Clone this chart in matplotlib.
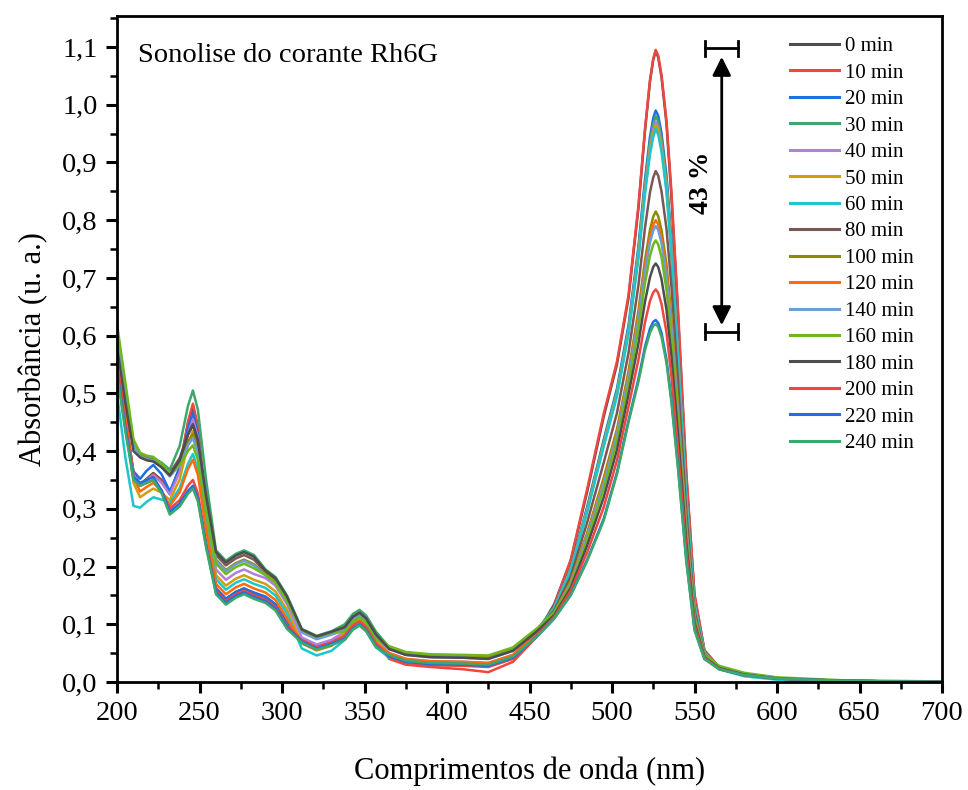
import matplotlib
matplotlib.use("Agg")
import matplotlib.pyplot as plt
from matplotlib.ticker import MultipleLocator, FuncFormatter

plt.rcParams['font.family'] = ['Liberation Serif', 'DejaVu Serif']

# wavelength grid (nm)
wl = [200, 205, 210, 214, 218, 222, 227, 232, 238, 243, 246, 249, 254, 260, 266, 272, 277, 283, 290, 296,
      303, 312, 321, 330, 338, 343, 347, 351, 357, 365, 375, 390, 410, 425,
      440, 455, 465, 475, 485, 495, 503, 510,
      516, 520, 523, 525, 526.5, 528, 530, 533, 536, 540, 545, 550, 556, 565,
      580, 600, 640, 700]

a_0 = [.57, .465, .362, .342, .352, .362, .35, .327, .372, .447, .478, .44, .301, .162, .144, .156, .162, .154, .147, .134,
       .102, .073, .061, .069, .085, .103, .11, .10, .072, .045, .035, .031, .03, .028,
       .042, .086, .135, .21, .33, .46, .55, .665,
       .82, .955, 1.04, 1.078, 1.093, 1.082, 1.048, .968, .842, .638, .358, .15, .055, .025,
       .012, .006, .002, 0.0]
a_10 = [.565, .46, .36, .34, .35, .36, .348, .325, .372, .451, .482, .444, .302, .16, .142, .154, .16, .152, .145, .132,
        .10, .072, .06, .068, .083, .101, .108, .098, .07, .04, .03, .026, .022, .017,
        .035, .08, .133, .212, .335, .465, .555, .67,
        .825, .958, 1.042, 1.08, 1.095, 1.085, 1.052, .973, .85, .645, .365, .152, .055, .025,
        .012, .006, .002, 0.0]
a_20 = [.545, .445, .365, .352, .366, .376, .36, .33, .371, .439, .466, .43, .296, .162, .144, .156, .162, .155, .148, .135,
        .103, .07, .058, .066, .083, .101, .108, .098, .07, .045, .035, .031, .03, .028,
        .042, .085, .13, .197, .304, .42, .508, .618,
        .754, .871, .944, .977, .99, .981, .951, .878, .766, .581, .327, .137, .052, .024,
        .012, .006, .002, 0.0]
a_30 = [.59, .495, .41, .395, .39, .388, .38, .368, .409, .478, .505, .472, .35, .228, .21, .222, .228, .22, .195, .182,
        .15, .092, .08, .088, .10, .118, .125, .115, .087, .06, .05, .046, .045, .043,
        .057, .092, .129, .196, .301, .417, .504, .613,
        .748, .864, .936, .967, .98, .971, .942, .87, .759, .575, .324, .136, .051, .024,
        .012, .006, .002, 0.0]
a_40 = [.55, .45, .36, .34, .35, .358, .345, .325, .364, .429, .455, .424, .309, .195, .177, .189, .195, .187, .18, .167,
        .135, .077, .065, .073, .087, .105, .112, .102, .074, .05, .04, .036, .035, .033,
        .047, .087, .128, .194, .298, .413, .50, .608,
        .741, .855, .926, .957, .97, .961, .931, .86, .75, .569, .321, .134, .051, .024,
        .012, .006, .002, 0.0]
a_50 = [.56, .455, .345, .32, .328, .335, .328, .315, .351, .411, .435, .405, .295, .185, .167, .179, .185, .177, .17, .157,
        .125, .067, .055, .063, .085, .103, .11, .10, .072, .047, .037, .033, .032, .03,
        .044, .086, .128, .194, .297, .411, .498, .606,
        .738, .851, .921, .952, .965, .955, .926, .856, .746, .566, .319, .134, .051, .024,
        .012, .006, .002, 0.0]
a_60 = [.50, .39, .305, .302, .312, .32, .316, .31, .336, .378, .395, .369, .273, .178, .16, .172, .178, .17, .163, .15,
        .118, .058, .046, .054, .073, .091, .098, .088, .06, .042, .035, .031, .03, .028,
        .042, .085, .128, .193, .295, .408, .495, .603,
        .733, .845, .914, .944, .958, .948, .919, .849, .741, .562, .317, .133, .051, .022,
        .010, .004, .001, 0.0]
a_80 = [.60, .50, .41, .393, .388, .386, .376, .362, .388, .43, .447, .42, .32, .22, .202, .214, .22, .212, .19, .177,
        .145, .09, .078, .086, .095, .113, .12, .11, .082, .058, .048, .044, .043, .041,
        .055, .09, .124, .183, .277, .38, .466, .57,
        .687, .787, .848, .874, .885, .877, .85, .786, .686, .521, .294, .123, .048, .024,
        .012, .006, .002, 0.0]
a_100 = [.61, .51, .415, .395, .39, .388, .376, .36, .381, .416, .43, .404, .308, .212, .194, .206, .212, .204, .187, .174,
         .142, .088, .076, .084, .093, .111, .118, .108, .08, .061, .051, .047, .046, .044,
         .058, .092, .12, .175, .259, .354, .438, .538,
         .643, .731, .783, .806, .815, .807, .783, .724, .633, .481, .272, .115, .046, .025,
         .014, .007, .002, 0.0]
a_120 = [.57, .465, .355, .33, .338, .345, .33, .305, .329, .369, .385, .359, .265, .17, .152, .164, .17, .162, .155, .142,
         .11, .067, .055, .063, .08, .098, .105, .095, .067, .05, .04, .036, .035, .033,
         .047, .087, .12, .173, .256, .348, .432, .532,
         .634, .719, .77, .792, .80, .793, .77, .711, .622, .473, .267, .113, .046, .023,
         .012, .006, .002, 0.0]
a_140 = [.60, .50, .41, .391, .386, .384, .372, .356, .376, .41, .423, .397, .304, .21, .192, .204, .21, .202, .185, .172,
         .14, .086, .074, .082, .09, .108, .115, .105, .077, .057, .047, .043, .042, .04,
         .054, .089, .119, .171, .253, .344, .428, .527,
         .627, .711, .761, .782, .79, .783, .76, .702, .614, .467, .264, .111, .045, .024,
         .013, .006, .002, 0.0]
a_160 = [.62, .52, .42, .397, .392, .39, .378, .362, .376, .40, .41, .385, .295, .205, .187, .199, .205, .197, .185, .172,
         .14, .09, .078, .086, .087, .105, .112, .102, .074, .062, .052, .048, .047, .046,
         .06, .094, .121, .168, .247, .335, .418, .516,
         .612, .691, .738, .758, .765, .758, .736, .68, .595, .452, .256, .108, .047, .028,
         .016, .008, .003, .001]
a_180 = [.58, .485, .40, .389, .384, .382, .372, .358, .384, .428, .445, .418, .322, .225, .207, .219, .225, .217, .193, .18,
         .148, .091, .079, .087, .095, .113, .12, .11, .082, .057, .047, .043, .042, .04,
         .054, .089, .116, .163, .237, .32, .402, .498,
         .586, .659, .701, .719, .725, .719, .698, .645, .565, .43, .243, .103, .043, .024,
         .013, .006, .002, 0.0]
a_200 = [.555, .45, .355, .34, .345, .35, .332, .30, .315, .34, .35, .327, .242, .158, .14, .152, .158, .15, .143, .13,
         .098, .072, .06, .068, .08, .098, .105, .095, .067, .043, .033, .029, .028, .026,
         .04, .082, .113, .158, .225, .303, .384, .477,
         .558, .623, .66, .675, .68, .674, .655, .606, .53, .404, .229, .098, .042, .023,
         .012, .006, .002, 0.0]
a_220 = [.54, .44, .355, .345, .35, .355, .332, .295, .309, .331, .34, .318, .236, .155, .137, .149, .155, .147, .14, .127,
         .095, .07, .058, .066, .075, .093, .10, .09, .062, .045, .035, .031, .03, .028,
         .042, .08, .11, .151, .212, .283, .363, .453,
         .525, .581, .612, .624, .627, .622, .605, .559, .49, .374, .212, .091, .04, .022,
         .012, .006, .002, 0.0]
a_240 = [.535, .435, .35, .34, .345, .35, .327, .29, .304, .326, .335, .313, .233, .152, .134, .146, .152, .144, .137, .124,
         .092, .068, .056, .064, .073, .091, .098, .088, .06, .047, .037, .033, .032, .03,
         .044, .08, .11, .15, .21, .28, .36, .45,
         .52, .575, .605, .617, .62, .615, .598, .553, .485, .37, .21, .09, .04, .022,
         .012, .006, .002, 0.0]

times = ['0 min', '10 min', '20 min', '30 min', '40 min', '50 min', '60 min', '80 min',
         '100 min', '120 min', '140 min', '160 min', '180 min', '200 min', '220 min', '240 min']
spectra = [a_0, a_10, a_20, a_30, a_40, a_50, a_60, a_80, a_100, a_120, a_140, a_160, a_180, a_200, a_220, a_240]
colors = ['#4D4D4D', '#EE4640', '#1F6FE0', '#3BA86C', '#B07FE0', '#D19E0E', '#1CC6CF', '#7A5656',
          '#8C8C00', '#FF6A0A', '#6E9DD6', '#6DB81E', '#4D4D4D', '#EE4640', '#1F6FE0', '#3BA86C']

W, H = 968, 790
fig = plt.figure(figsize=(W / 100, H / 100), dpi=100)
ax = fig.add_axes([117 / W, 108 / H, 825 / W, 666 / H])

for lab, y, c in zip(times, spectra, colors):
    assert len(y) == len(wl)
    ax.plot(wl, y, color=c, lw=1.8, label=lab, solid_joinstyle='round')

ax.set_xlim(200, 700)
ax.set_ylim(0, 1.1537)
ax.xaxis.set_major_locator(MultipleLocator(50))
ax.xaxis.set_minor_locator(MultipleLocator(25))
ax.yaxis.set_major_locator(MultipleLocator(0.1))
ax.yaxis.set_minor_locator(MultipleLocator(0.05))
ax.yaxis.set_major_formatter(FuncFormatter(lambda v, p: f'{v:.1f}'.replace('.', ',')))
ax.tick_params(which='major', direction='out', length=8, width=2.2, labelsize=20.5, pad=6)
ax.tick_params(which='minor', direction='out', length=5, width=1.8)
for s in ax.spines.values():
    s.set_linewidth(2.0)

ax.set_xlabel('Comprimentos de onda (nm)', fontsize=22, labelpad=22)
ax.set_ylabel('Absorbância (u. a.)', fontsize=22, labelpad=10)

ax.text(0.0255, 0.9414, 'Sonolise do corante Rh6G', transform=ax.transAxes, fontsize=20.5,
        ha='left', va='center')

leg = ax.legend(loc='upper left', bbox_to_anchor=(0.8158, 0.969), frameon=False, fontsize=15,
                handlelength=2.35, handletextpad=0.3, labelspacing=0.33, borderpad=0, borderaxespad=0)
for h in leg.get_lines():
    h.set_linewidth(2.2)

# 43 % decrease indicator
x_arrow = 566.5
ax.annotate('', xy=(x_arrow, 1.083), xytext=(x_arrow, 0.618),
            arrowprops=dict(arrowstyle='<|-|>', mutation_scale=28, lw=2.0, color='black',
                            shrinkA=0, shrinkB=0))
for yc in (1.098, 0.607):
    ax.plot([556.4, 576.4], [yc, yc], color='black', lw=2.0)
    ax.plot([556.4, 556.4], [yc - 0.013, yc + 0.013], color='black', lw=2.0)
    ax.plot([576.4, 576.4], [yc - 0.013, yc + 0.013], color='black', lw=2.0)
ax.text(554.5, 0.864, '43 %', rotation=90, fontsize=20, fontweight='bold', ha='center', va='center')

fig.savefig('out.png', dpi=100)
